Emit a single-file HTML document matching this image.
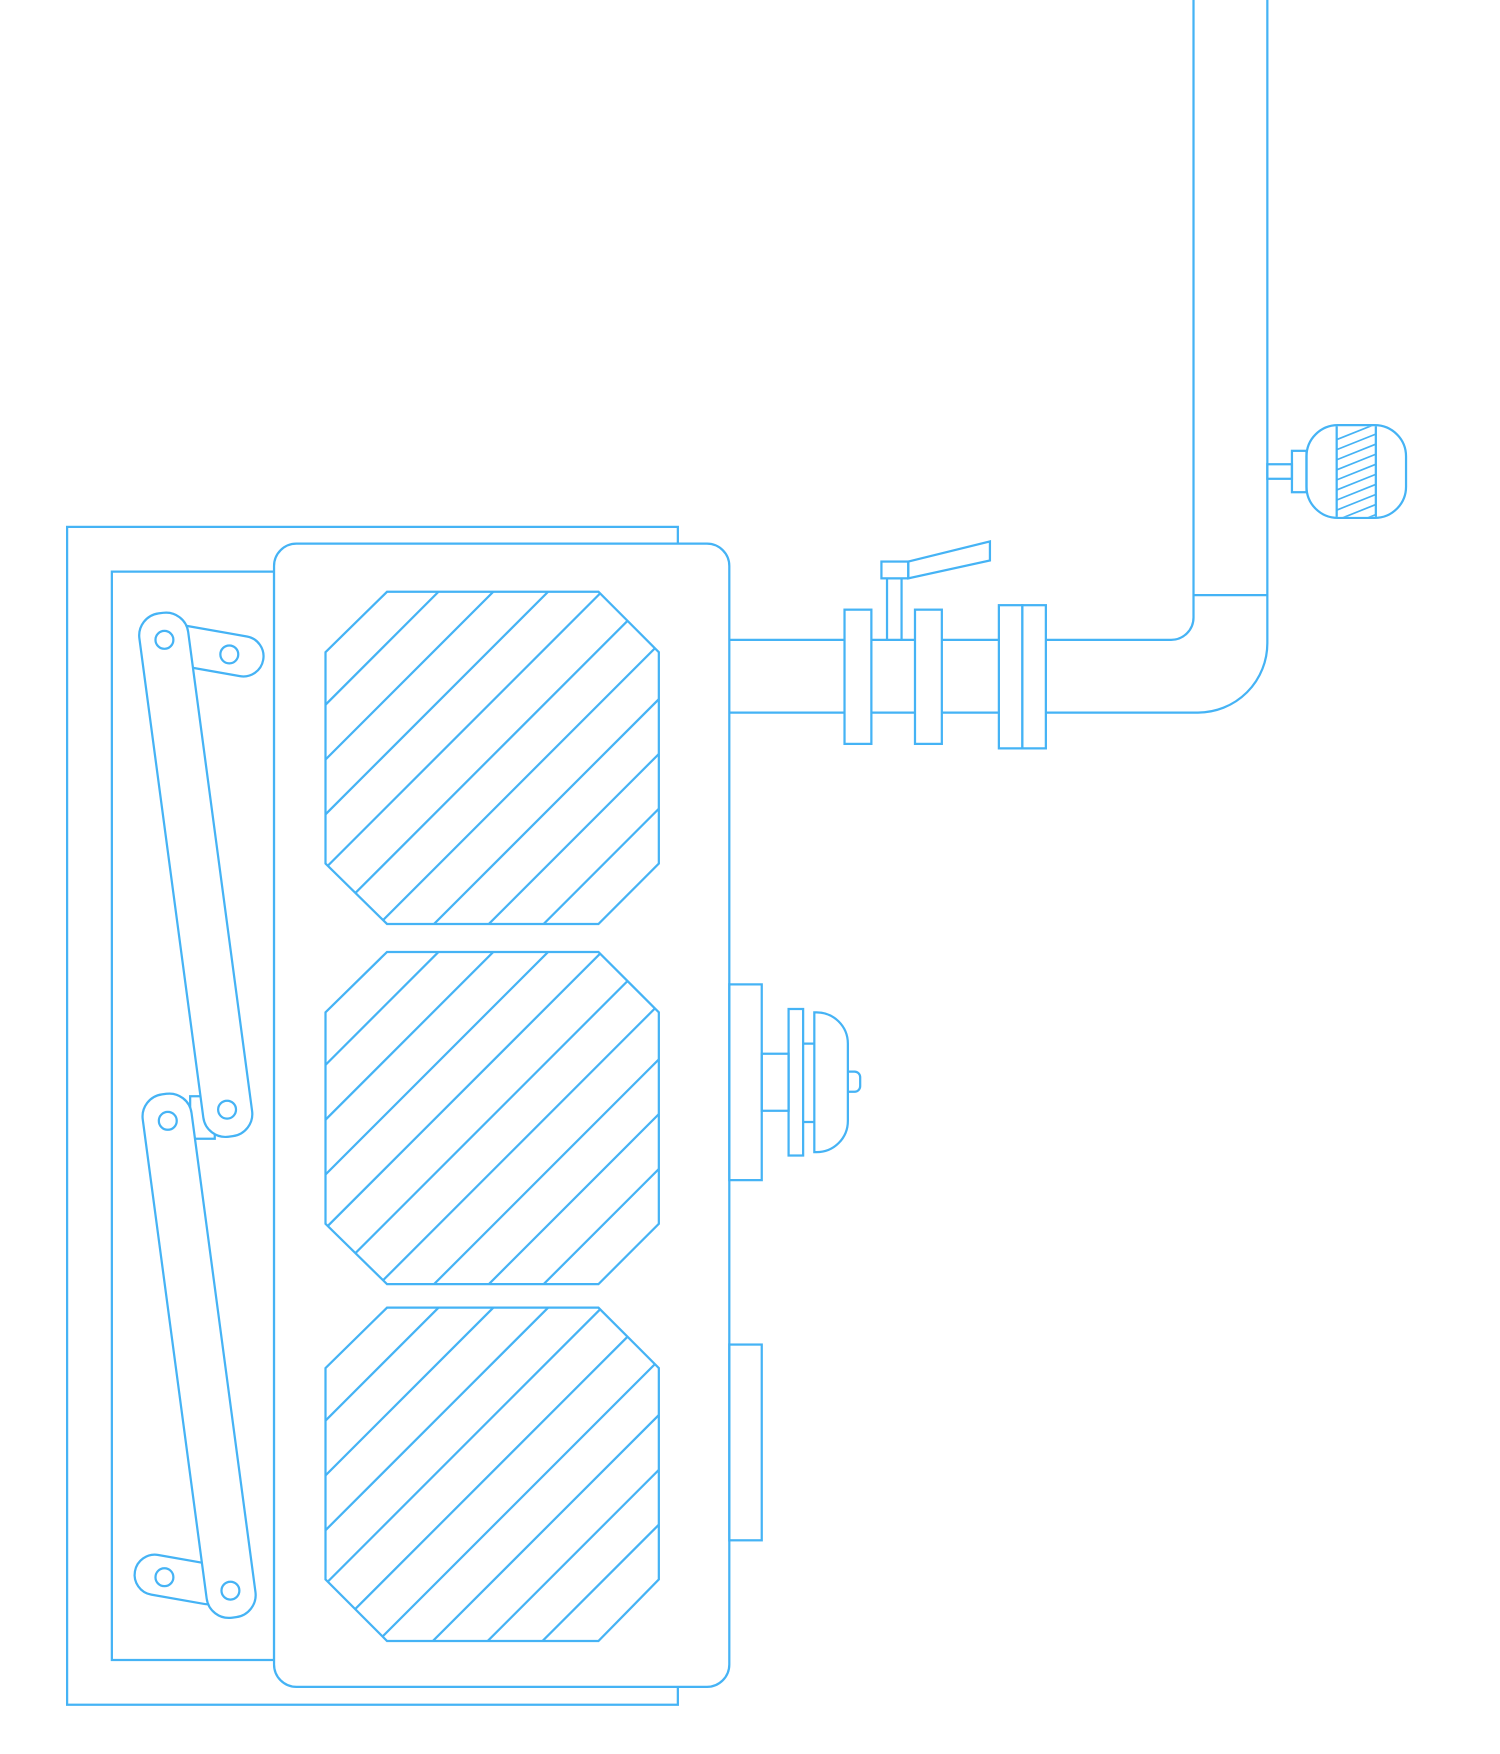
<!DOCTYPE html>
<html><head><meta charset="utf-8"><style>html,body{margin:0;padding:0;background:#fff}svg{display:block}</style></head>
<body>
<svg width="1500" height="1754" viewBox="0 0 1341 1568" xmlns="http://www.w3.org/2000/svg">
<defs>
<clipPath id="oc1"><polygon points="346,529 535,529 589,583 589,772 535,826 346,826 291,772 291,583"/></clipPath>
<clipPath id="oc2"><polygon points="346,851 535,851 589,905 589,1094 535,1148 346,1148 291,1094 291,905"/></clipPath>
<clipPath id="oc3"><polygon points="346,1169 535,1169 589,1223 589,1412 535,1467 346,1467 291,1412 291,1223"/></clipPath>
<clipPath id="mh"><rect x="1195" y="381" width="35" height="81"/></clipPath>
</defs>
<g fill="none" stroke="#45b3f5" stroke-width="2">
<rect x="60" y="471" width="546" height="1053"/>
<rect x="100" y="511" width="145" height="973"/>
<rect x="245" y="486" width="407" height="1022" rx="20" fill="#fff"/>
<polygon points="346,529 535,529 589,583 589,772 535,826 346,826 291,772 291,583"/>
<polygon points="346,851 535,851 589,905 589,1094 535,1148 346,1148 291,1094 291,905"/>
<polygon points="346,1169 535,1169 589,1223 589,1412 535,1467 346,1467 291,1412 291,1223"/>
<g clip-path="url(#oc1)">
<path d="M392,529 l-400,400 M441,529 l-400,400 M490,529 l-400,400 M538,529 l-400,400 M587,529 l-400,400 M636,529 l-400,400 M685,529 l-400,400 M734,529 l-400,400 M783,529 l-400,400"/>
</g>
<g clip-path="url(#oc2)">
<path d="M392,851 l-400,400 M441,851 l-400,400 M490,851 l-400,400 M538,851 l-400,400 M587,851 l-400,400 M636,851 l-400,400 M685,851 l-400,400 M734,851 l-400,400 M783,851 l-400,400"/>
</g>
<g clip-path="url(#oc3)">
<path d="M392,1169 l-400,400 M441,1169 l-400,400 M490,1169 l-400,400 M538,1169 l-400,400 M587,1169 l-400,400 M636,1169 l-400,400 M685,1169 l-400,400 M734,1169 l-400,400 M783,1169 l-400,400"/>
</g>
<!-- links -->
<rect x="-45" y="-18" width="90" height="36" rx="18" transform="translate(191,582) rotate(10)" fill="#fff"/>
<rect x="170" y="980" width="22" height="38" fill="#fff"/>
<rect x="-42" y="-18" width="84" height="36" rx="18" transform="translate(162,1412) rotate(10)" fill="#fff"/>
<rect x="-22" y="-236" width="44" height="472" rx="20" transform="translate(175,782) rotate(-7.6)" fill="#fff"/>
<rect x="-22" y="-236" width="44" height="472" rx="20" transform="translate(178,1212) rotate(-7.6)" fill="#fff"/>
<circle cx="147" cy="572" r="8"/><circle cx="205" cy="585" r="8"/>
<circle cx="203" cy="992" r="8"/><circle cx="150" cy="1002" r="8"/>
<circle cx="206" cy="1422" r="8"/><circle cx="147" cy="1410" r="8"/>
<!-- pipe -->
<path d="M652,572 H1047 A20,20 0 0 0 1067,552 V0"/>
<path d="M652,637 H1071 A62,62 0 0 0 1133,575 V0"/>
<path d="M1067,532 H1133"/>
<rect x="755" y="545" width="24" height="120" fill="#fff"/>
<rect x="818" y="545" width="24" height="120" fill="#fff"/>
<rect x="893" y="541" width="21" height="128" fill="#fff"/>
<rect x="914" y="541" width="21" height="128" fill="#fff"/>
<rect x="793" y="517" width="13" height="55" fill="#fff"/>
<rect x="788" y="502" width="24" height="15" fill="#fff"/>
<polygon points="812,502 885,484 885,501 812,517"/>
<!-- motor -->
<rect x="1133" y="415" width="22" height="13"/>
<rect x="1155" y="403" width="13" height="37"/>
<rect x="1168" y="380" width="89" height="83" rx="28"/>
<path d="M1195,381 V462 M1230,381 V462"/>
<g clip-path="url(#mh)" stroke-width="1.5">
<path d="M1190,395 l45,-18 M1190,404 l45,-18 M1190,413 l45,-18 M1190,422 l45,-18 M1190,431 l45,-18 M1190,440 l45,-18 M1190,449 l45,-18 M1190,458 l45,-18 M1190,467 l45,-18 M1190,476 l45,-18"/>
</g>
<!-- side devices -->
<rect x="652" y="880" width="29" height="175"/>
<rect x="681" y="942" width="24" height="51"/>
<rect x="705" y="902" width="13" height="131"/>
<path d="M718,933 H728 M718,1003 H728"/>
<path d="M728,905 H730 A28,28 0 0 1 758,933 V1002 A28,28 0 0 1 730,1030 H728 Z"/>
<path d="M758,958 H764 A5,5 0 0 1 769,963 V971 A5,5 0 0 1 764,976 H758"/>
<rect x="652" y="1202" width="29" height="175"/>
</g>
</svg>
</body></html>
